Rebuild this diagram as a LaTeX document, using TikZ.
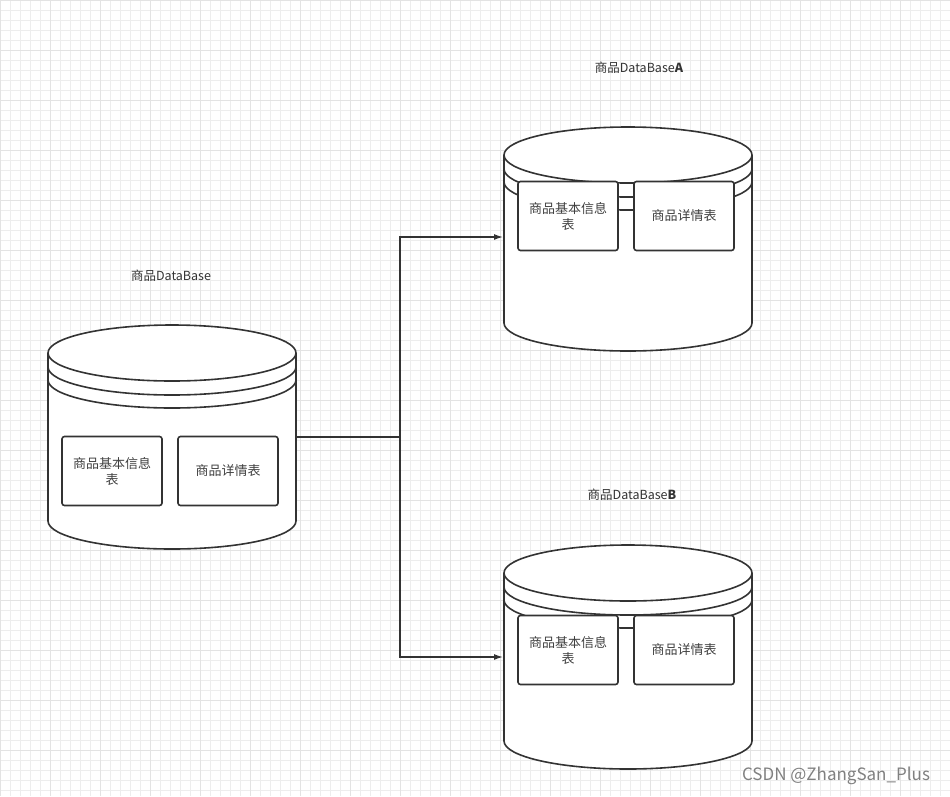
\documentclass[tikz,border=0pt]{standalone}
\usepackage{fontspec}
\setmainfont{Noto Sans CJK SC}
\usetikzlibrary{arrows.meta}
\begin{document}
\begin{tikzpicture}[x=1pt,y=-1pt,
 ln/.style={line width=1.6pt,draw=black!80},
 tbl/.style={ln,fill=white,rounded corners=2.5pt,minimum width=100pt,minimum height=69pt,inner sep=1pt,align=center,font=\fontsize{13}{16}\selectfont,text=black!75},
 lab/.style={font=\fontsize{12.5}{14}\selectfont,text=black!80},
 arr/.style={line width=1.3pt,draw=black!80,-{Latex[length=9pt,width=6pt]}}]
\useasboundingbox (0,0) rectangle (950,796);
\fill[white] (0,0) rectangle (950,796);
\foreach \i in {0,10,...,950}{\draw[black!7,line width=0.5pt] (\i,0)--(\i,796);}
\foreach \i in {0,10,...,796}{\draw[black!7,line width=0.5pt] (0,\i)--(950,\i);}
\foreach \i in {0,50,...,950}{\draw[black!11,line width=0.6pt] (\i,0)--(\i,796);}
\foreach \i in {0,50,...,796}{\draw[black!11,line width=0.6pt] (0,\i)--(950,\i);}
\newcommand{\mycyl}[3]{%
 \begin{scope}[shift={(#1,#2)}]
 \coordinate (#3) at (124,112);
 \filldraw[ln,fill=white] (0,28) -- (0,196) arc[start angle=180,end angle=0,x radius=124,y radius=28] -- (248,28);
 \filldraw[ln,fill=white] (124,28) ellipse[x radius=124,y radius=28];
 \draw[ln] (0,42) arc[start angle=180,end angle=0,x radius=124,y radius=28];
 \draw[ln] (0,55) arc[start angle=180,end angle=0,x radius=124,y radius=28];
 \end{scope}}
\mycyl{48}{325}{c0}
\mycyl{504}{127}{ca}
\mycyl{504}{545}{cb}
\node[tbl] (t0a) at (112,471) {商品基本信息\\表};
\node[tbl] (t0b) at (228,471) {商品详情表};
\node[tbl] (taa) at (568,216) {商品基本信息\\表};
\node[tbl] (tab) at (684,216) {商品详情表};
\node[tbl] (tba) at (568,650) {商品基本信息\\表};
\node[tbl] (tbb) at (684,650) {商品详情表};
\node[lab] (l0) at (171,276) {商品DataBase};
\node[lab] (la) at (639,68) {商品DataBase\textbf{A}};
\node[lab] (lb) at (632,495) {商品DataBase\textbf{B}};
\coordinate (s) at (297,437);
\coordinate (j) at (400,437);
\coordinate (ea) at (503,237);
\coordinate (eb) at (503,657);
\draw[ln,line width=1.3pt] (s) -- (j);
\draw[arr] (j) |- (ea);
\draw[arr] (j) |- (eb);
\node[font=\fontsize{17}{19}\selectfont,text=black!50] (wm) at (836,776) {CSDN @ZhangSan\_Plus};
\end{tikzpicture}
\end{document}
